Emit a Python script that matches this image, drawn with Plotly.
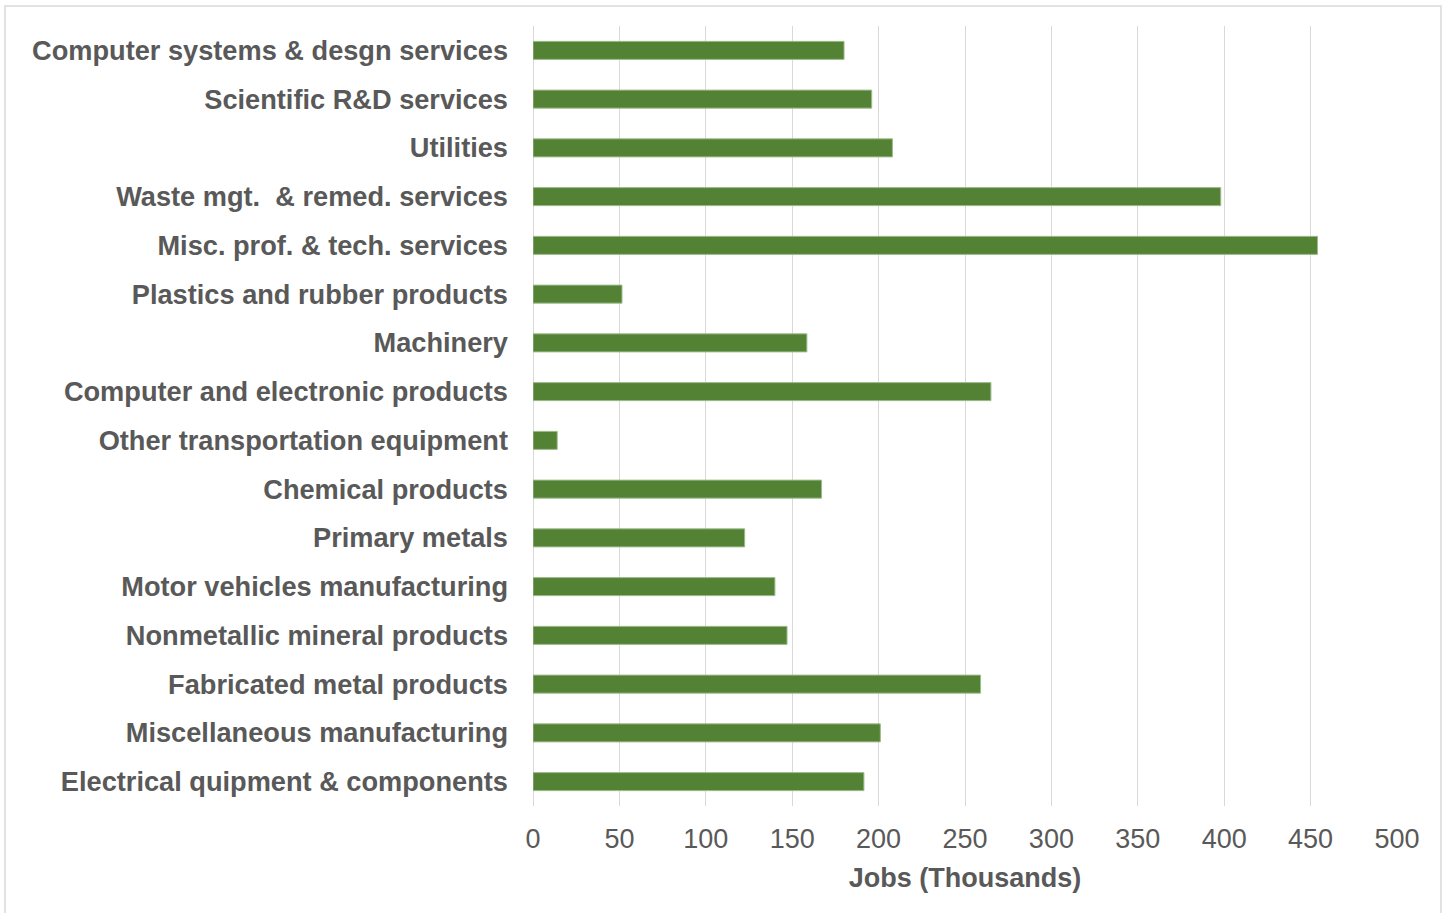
import plotly.graph_objects as go

categories = [
    "Computer systems & desgn services",
    "Scientific R&D services",
    "Utilities",
    "Waste mgt.  & remed. services",
    "Misc. prof. & tech. services",
    "Plastics and rubber products",
    "Machinery",
    "Computer and electronic products",
    "Other transportation equipment",
    "Chemical products",
    "Primary metals",
    "Motor vehicles manufacturing",
    "Nonmetallic mineral products",
    "Fabricated metal products",
    "Miscellaneous manufacturing",
    "Electrical quipment & components",
]
jobs_thousands = [180, 196, 208, 398, 454, 51.5, 158.5, 265, 14, 167, 122.5, 140, 147, 259, 201, 191.5]
x_ticks = [0, 50, 100, 150, 200, 250, 300, 350, 400, 450, 500]

fig = go.Figure(
    go.Bar(
        x=jobs_thousands,
        y=categories,
        orientation="h",
        marker=dict(color="#548235", line=dict(color="#9dbb8c", width=1)),
        width=0.37,
    )
)

fig.update_layout(
    width=1445,
    height=913,
    margin=dict(l=533, r=48, t=26, b=107),
    paper_bgcolor="white",
    plot_bgcolor="white",
    showlegend=False,
    font=dict(family="Liberation Sans, Arial, sans-serif", color="#595959"),
    bargap=0.63,
)
fig.update_xaxes(
    range=[0, 500],
    tickvals=x_ticks,
    showgrid=True,
    gridcolor="#D9D9D9",
    gridwidth=1,
    zeroline=True,
    zerolinecolor="#D9D9D9",
    zerolinewidth=1,
    showline=False,
    tickfont=dict(size=27, color="#595959"),
    ticklabelstandoff=14,
    title=dict(text="<b>Jobs (Thousands)</b>", font=dict(size=27, color="#595959"), standoff=15),
)
fig.update_yaxes(
    autorange="reversed",
    showgrid=False,
    showline=False,
    tickfont=dict(size=27.2, color="#595959", weight="bold"),
    ticklabelstandoff=24,
)
fig.add_shape(
    type="rect",
    xref="paper",
    yref="paper",
    x0=(5 - 533) / 864,
    x1=(1441 - 533) / 864,
    y0=(806 - 930) / 780,
    y1=(806 - 6) / 780,
    line=dict(color="#D9D9D9", width=1.5),
    fillcolor="rgba(0,0,0,0)",
    layer="below",
)

fig.write_html(
    "out.html",
    config={"displayModeBar": False},
    post_script="document.body.style.margin='0px';document.body.style.overflow='hidden';",
)
